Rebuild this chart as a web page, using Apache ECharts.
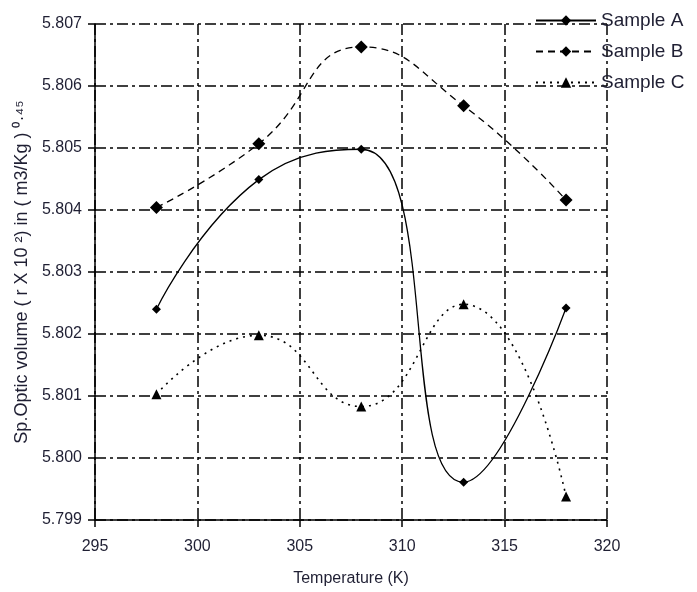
<!DOCTYPE html>
<html>
<head>
<meta charset="utf-8">
<script src="https://cdn.jsdelivr.net/npm/echarts@6/dist/echarts.min.js"></script>
<style>
  html, body { margin: 0; padding: 0; background: #fff; }
  #chart { width: 697px; height: 592px; }
</style>
</head>
<body>
<div id="chart"></div>
<script>
// temperatures (K)
const temps = [298, 303, 308, 313, 318]
// values
const sampleA = [5.8024, 5.80449, 5.80498, 5.79961, 5.80242]
const sampleB = [5.80404, 5.80507, 5.80663, 5.80568, 5.80416]
const sampleC = [5.80103, 5.80198, 5.80083, 5.80248, 5.79938]

const pairs = vals => temps.map((t, i) => [t, vals[i]])

const font = '"Liberation Sans", Arial, sans-serif'
const textColor = '#1f1f33'
const gridDash = [11, 4, 3, 4]

const chart = echarts.init(document.getElementById('chart'))

const option = {
  backgroundColor: '#fff',
  animation: false,
  grid: { left: 95, right: 90, top: 24, bottom: 70 },
  legend: {
    orient: 'vertical',
    left: 530,
    top: 6,
    itemGap: 12,
    itemWidth: 60,
    itemHeight: 13,
    textStyle: { fontFamily: font, fontSize: 19, color: textColor },
    data: ['Sample A', 'Sample B', 'Sample C']
  },
  xAxis: {
    type: 'value',
    min: 295,
    max: 320,
    interval: 5,
    name: 'Temperature (K)',
    nameLocation: 'middle',
    nameGap: 51,
    nameTextStyle: { fontFamily: font, fontSize: 16, color: textColor },
    axisLine: { show: true, lineStyle: { color: '#000', width: 1.5 } },
    axisTick: { show: true, length: 7, lineStyle: { color: '#000', width: 1.5 } },
    axisLabel: { fontFamily: font, fontSize: 16, color: textColor, margin: 19 },
    splitLine: { show: true, lineStyle: { color: '#000', width: 1.5, type: gridDash } }
  },
  yAxis: {
    type: 'value',
    min: 5.799,
    max: 5.807,
    interval: 0.001,
    name: 'Sp.Optic volume ( r X 10 ²) in ( m3/Kg ) ⁰·⁴⁵',
    nameLocation: 'middle',
    nameGap: 56,
    nameTextStyle: { fontFamily: font, fontSize: 18, color: textColor },
    axisLine: { show: true, lineStyle: { color: '#000', width: 1.5 } },
    axisTick: { show: true, length: 7, lineStyle: { color: '#000', width: 1.5 } },
    axisLabel: {
      fontFamily: font, fontSize: 16, color: textColor, margin: 13,
      formatter: v => v.toFixed(3)
    },
    splitLine: { show: true, lineStyle: { color: '#000', width: 1.5, type: gridDash } }
  },
  series: [
    {
      name: 'Sample A',
      type: 'line',
      data: pairs(sampleA),
      smooth: 0.5,
      symbol: 'diamond',
      symbolSize: 9,
      itemStyle: { color: '#000' },
      lineStyle: { color: '#000', width: 1.3, type: 'solid' }
    },
    {
      name: 'Sample B',
      type: 'line',
      data: pairs(sampleB),
      smooth: 0.5,
      symbol: 'diamond',
      symbolSize: 13,
      itemStyle: { color: '#000' },
      lineStyle: { color: '#000', width: 1.3, type: [7, 5] }
    },
    {
      name: 'Sample C',
      type: 'line',
      data: pairs(sampleC),
      smooth: 0.5,
      symbol: 'triangle',
      symbolSize: 10,
      itemStyle: { color: '#000' },
      lineStyle: { color: '#000', width: 1.6, type: [2, 5] }
    }
  ]
}

chart.setOption(option)
</script>
</body>
</html>
